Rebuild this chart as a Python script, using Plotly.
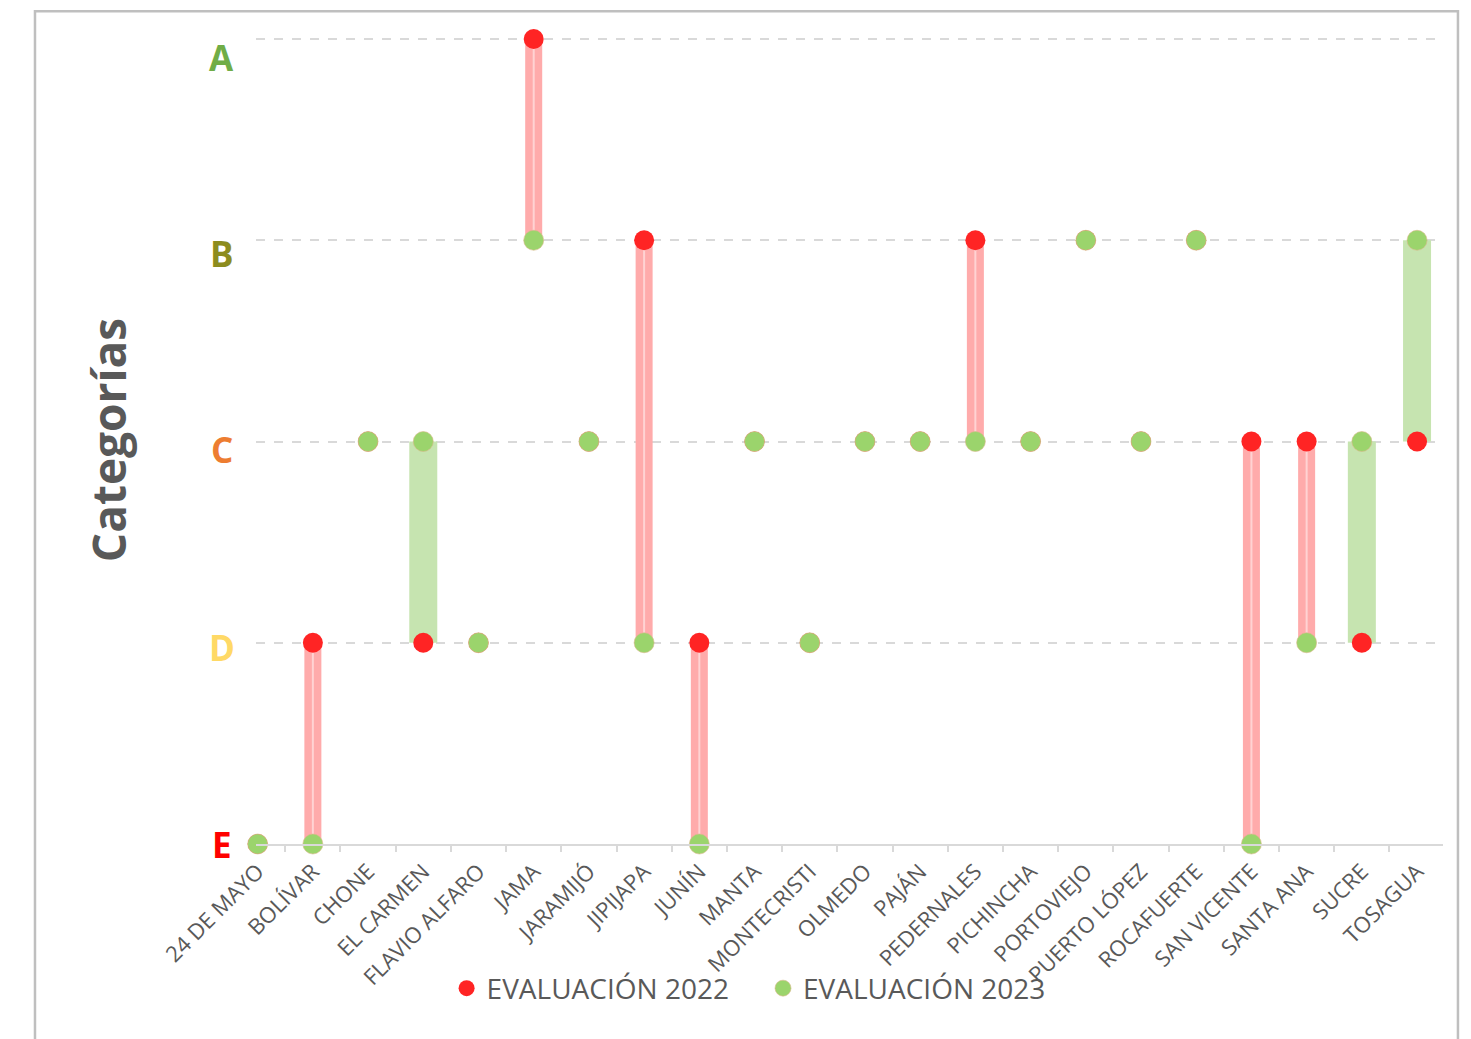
import plotly.graph_objects as go

cantones = ["24 DE MAYO", "BOLÍVAR", "CHONE", "EL CARMEN", "FLAVIO ALFARO", "JAMA",
            "JARAMIJÓ", "JIPIJAPA", "JUNÍN", "MANTA", "MONTECRISTI", "OLMEDO",
            "PAJÁN", "PEDERNALES", "PICHINCHA", "PORTOVIEJO", "PUERTO LÓPEZ",
            "ROCAFUERTE", "SAN VICENTE", "SANTA ANA", "SUCRE", "TOSAGUA"]

# categoria: E=1, D=2, C=3, B=4, A=5
eval_2022 = [1, 2, 3, 2, 2, 5, 3, 4, 2, 3, 2, 3, 3, 4, 3, 4, 3, 4, 3, 3, 2, 3]
eval_2023 = [1, 1, 3, 3, 2, 4, 3, 2, 1, 3, 2, 3, 3, 3, 3, 4, 3, 4, 1, 2, 3, 4]

cat_vals = [1, 2, 3, 4, 5]
cat_labels = ["E", "D", "C", "B", "A"]
cat_colors = ["#FF0000", "#FFD966", "#ED7D31", "#8C8C1E", "#70AD47"]
label_shift = [0, -5, -8, -13, -18]

gris = "#595959"
fuente = "Open Sans"

# segmentos de cambio
bx_down, by_down, bx_up, by_up = [], [], [], []
for c, a, b in zip(cantones, eval_2022, eval_2023):
    if b < a:
        bx_down += [c, c, None]
        by_down += [a, b, None]
    elif b > a:
        bx_up += [c, c, None]
        by_up += [a, b, None]

fig = go.Figure()
fig.add_trace(go.Scatter(x=bx_up, y=by_up, mode="lines", showlegend=False, hoverinfo="skip",
                         line=dict(color="#C6E4B0", width=28), cliponaxis=False))
fig.add_trace(go.Scatter(x=bx_down, y=by_down, mode="lines", showlegend=False, hoverinfo="skip",
                         line=dict(color="#FFABAB", width=17), cliponaxis=False))
fig.add_trace(go.Scatter(x=bx_down, y=by_down, mode="lines", showlegend=False, hoverinfo="skip",
                         line=dict(color="#FFD3D3", width=2), cliponaxis=False))
fig.add_trace(go.Scatter(x=cantones, y=eval_2022, mode="markers",
                         name="EVALUACIÓN 2022\u00a0\u00a0\u00a0\u00a0",
                         marker=dict(color="#FF2424", size=20), cliponaxis=False))
fig.add_trace(go.Scatter(x=cantones, y=eval_2023, mode="markers", name="EVALUACIÓN 2023",
                         marker=dict(color="#9BD46C", size=20,
                                     line=dict(color="#D9B98A", width=0.6)),
                         cliponaxis=False))

for v, t, col, sh in zip(cat_vals, cat_labels, cat_colors, label_shift):
    fig.add_annotation(x=-0.029, xref="paper", y=v, yref="y", text=f"<b>{t}</b>",
                       showarrow=False, xanchor="center", yanchor="middle", yshift=sh,
                       font=dict(family=fuente, size=35, color=col))

fig.add_annotation(x=-0.125, xref="paper", y=0.5, yref="paper", text="<b>Categorías</b>",
                   textangle=-90, showarrow=False, xanchor="center", yanchor="middle",
                   font=dict(family=fuente, size=46, color=gris))

# borde del gráfico
fig.add_shape(type="rect", xref="paper", yref="paper", x0=-0.1862, x1=1.0126,
              y0=-0.3, y1=1.032, line=dict(color="#BFBFBF", width=2.5), layer="below")

fig.update_layout(
    width=1471, height=1039,
    margin=dict(l=248, r=36, t=29, b=203),
    paper_bgcolor="white", plot_bgcolor="white",
    font=dict(family=fuente, color=gris),
    legend=dict(orientation="h", x=0.415, xanchor="center", y=-0.179, yanchor="middle",
                bgcolor="rgba(0,0,0,0)",
                font=dict(size=28, color=gris), itemwidth=30, tracegroupgap=0),
    xaxis=dict(type="category", categoryorder="array", categoryarray=cantones,
               range=[-0.03, 21.47], tickangle=-45, tickson="boundaries",
               ticks="outside", ticklen=6, tickcolor="#D9D9D9", tickwidth=1.5,
               ticklabelstandoff=4,
               showline=True, linecolor="#D9D9D9", linewidth=2, showgrid=False,
               tickfont=dict(family=fuente, size=22, color=gris)),
    yaxis=dict(range=[1, 5.01], tickvals=cat_vals, showticklabels=False,
               showgrid=True, gridcolor="#D9D9D9", griddash="dash", gridwidth=2,
               zeroline=False, showline=False),
)

fig.write_html("out.html")
